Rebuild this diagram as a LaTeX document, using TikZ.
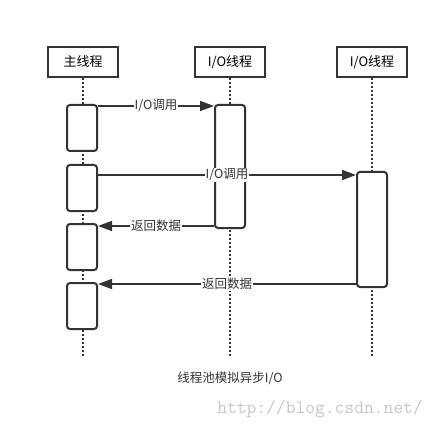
\documentclass[tikz,border=0pt]{standalone}
\usepackage{fontspec}
\setmainfont{Noto Sans CJK SC}
\usetikzlibrary{arrows.meta}

\definecolor{ink}{HTML}{333333}
\tikzset{
    head/.style={draw=ink,line width=2pt,minimum width=70pt,minimum height=30pt,inner sep=0pt,font=\fontsize{13}{15}\selectfont},
    act/.style={draw=ink,fill=white,line width=2pt,rounded corners=3pt,minimum width=30pt,inner sep=0pt},
    life/.style={ink,line width=2pt,dash pattern=on 2pt off 2pt},
    msg/.style={ink,line width=1.6pt,-{Triangle[length=14pt,width=10pt]}},
    lbl/.style={fill=white,inner sep=1pt,text=ink,font=\fontsize{12.5}{14}\selectfont}
}

\begin{document}
\begin{tikzpicture}[x=1pt,y=-1pt]
            \useasboundingbox (0,0) rectangle (438,430);
            % participants
            \node[head] (main) at (83,62) {主线程};
            \node[head] (io1) at (230,62) {I/O线程};
            \node[head] (io2) at (372,62) {I/O线程};
            \foreach \p in {main,io1,io2}
                \draw[life] (\p.south) -- (\p.south |- 0,356);
            % activations
            \foreach \n/\ya/\yb in {m1/105/151,m2/165/211,m3/224/270,m4/283/329}
                \node[act,minimum height=\yb-\ya] (\n) at (82,{(\ya+\yb)/2}) {};
            \node[act,minimum height=123] (a1) at (230,166.5) {};
            \node[act,minimum height=115] (a2) at (372,229.5) {};
            % messages
            \coordinate (c1) at ([yshift=-2pt]a1.north west);
            \coordinate (c2) at ([yshift=-4pt]a2.north west);
            \coordinate (r1) at ([yshift=3pt]a1.south west);
            \coordinate (r2) at ([yshift=4pt]a2.south west);
            \draw[msg] (m1.east |- c1) -- node[lbl] {I/O调用} (c1);
            \draw[msg] (m2.east |- c2) -- node[lbl] {I/O调用} (c2);
            \draw[msg] (r1) -- node[lbl] {返回数据} (m3.east |- r1);
            \draw[msg] (r2) -- node[lbl] {返回数据} (m4.east |- r2);
            % caption
            \node[text=ink,font=\fontsize{12.5}{14}\selectfont] (cap) at (230,378) {线程池模拟异步I/O};
            \node[text=black!22,font=\fontsize{19}{21}\ttfamily] (wm) at (320,409) {http://blog.csdn.net/};
        \end{tikzpicture}
\end{document}
